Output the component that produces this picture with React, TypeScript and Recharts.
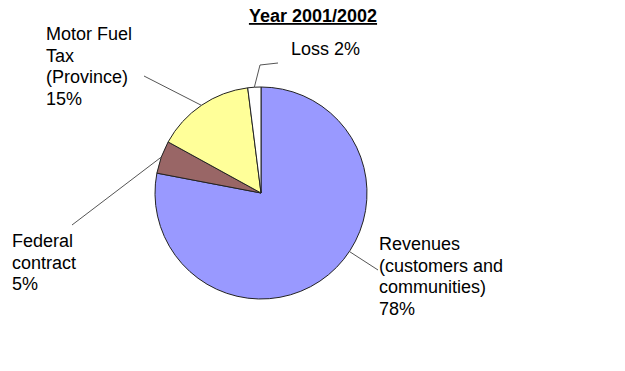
import React from 'react';
import { PieChart, Pie, Cell, Customized } from 'recharts';

// Share of funding, year 2001/2002 (percent)
const categories = ['Revenues', 'Federal contract', 'Motor Fuel Tax', 'Loss'];
const shares = [78, 5, 15, 2];
const labelLines = [
  ['Revenues', '(customers and', 'communities)', '78%'],
  ['Federal', 'contract', '5%'],
  ['Motor Fuel', 'Tax', '(Province)', '15%'],
  ['Loss 2%'],
];
const colors = ['#9999FF', '#996666', '#FFFF99', '#FFFFFF'];

const FONT = '"Liberation Sans", Arial, sans-serif';
const RAD = Math.PI / 180;

// leader line / text placement, relative to the pie centre
const labelLayout = [
  { angle: -33.5, points: [[117, 77]], tx: 118, ty: 57 },
  { angle: null, points: [[-189, 32]], tx: -249, ty: 54 },
  { angle: null, points: [[-117, -117]], tx: -215, ty: -153 },
  { angle: null, points: [[-1, -128], [17, -130]], tx: 30, ty: -138 },
];

const chartData = categories.map((name, i) => ({
  name,
  value: shares[i],
  lines: labelLines[i],
}));

const renderLabel = (props: any) => {
  const { cx, cy, midAngle, outerRadius, index } = props;
  const lay = labelLayout[index];
  const a = (lay.angle ?? midAngle) * RAD;
  const sx = cx + outerRadius * Math.cos(a);
  const sy = cy - outerRadius * Math.sin(a);
  const pts = [[sx, sy], ...lay.points.map(([dx, dy]) => [cx + dx, cy + dy])];
  return (
    <g key={`lbl-${index}`}>
      <polyline
        points={pts.map((p) => p.join(',')).join(' ')}
        fill="none"
        stroke="#555"
        strokeWidth={1}
      />
      <text x={cx + lay.tx} y={cy + lay.ty} fontFamily={FONT} fontSize={18} fill="#000">
        {chartData[index].lines.map((line, j) => (
          <tspan key={j} x={cx + lay.tx} dy={j === 0 ? 0 : 21.7}>
            {line}
          </tspan>
        ))}
      </text>
    </g>
  );
};

const Title = () => (
  <text
    x={313}
    y={22}
    textAnchor="middle"
    fontFamily={FONT}
    fontSize={18}
    fontWeight="bold"
    textDecoration="underline"
    fill="#000"
  >
    Year 2001/2002
  </text>
);

export default function App() {
  return (
    <div style={{ position: 'absolute', left: 0, top: 0, background: '#fff' }}>
      <PieChart width={625} height={371} margin={{ top: 0, right: 0, bottom: 0, left: 0 }}>
        <Pie
          data={chartData}
          dataKey="value"
          nameKey="name"
          cx={261}
          cy={193}
          outerRadius={106}
          startAngle={90}
          endAngle={-270}
          stroke="#222"
          strokeWidth={1}
          label={renderLabel}
          labelLine={false}
          isAnimationActive={false}
        >
          {chartData.map((d, i) => (
            <Cell key={d.name} fill={colors[i]} />
          ))}
        </Pie>
        <Customized component={Title} />
      </PieChart>
    </div>
  );
}
